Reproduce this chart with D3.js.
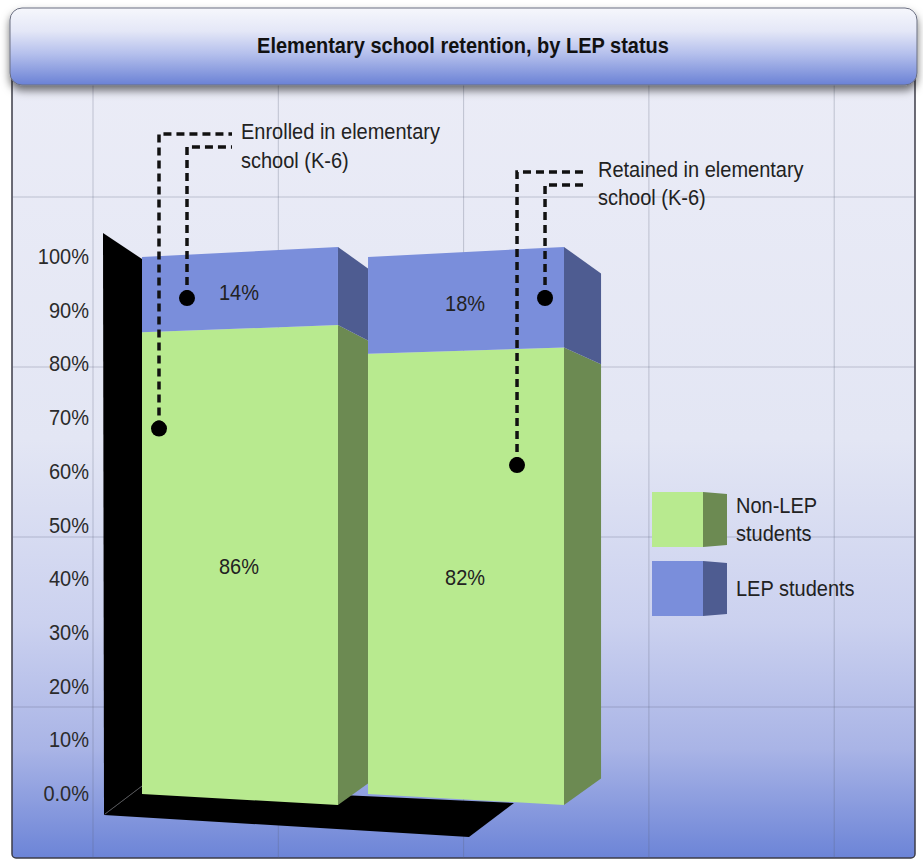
<!DOCTYPE html>
<html>
<head>
<meta charset="utf-8">
<script src="https://cdn.jsdelivr.net/npm/d3@7"></script>
<style>
  body { margin: 0; background: #fff; }
  svg { display: block; font-family: "Liberation Sans", Arial, sans-serif; }
</style>
</head>
<body>
<svg id="chart" width="923" height="861"></svg>
<script>
// chart values
const title = 'Elementary school retention, by LEP status';
const categories = ['Enrolled in elementary school (K-6)', 'Retained in elementary school (K-6)'];
const nonLepValues = [86, 82];
const lepValues = [14, 18];
const seriesKeys = ['nonLep', 'lep'];
const seriesNames = [['Non-LEP', 'students'], ['LEP students']];
const tickValues = [0, 10, 20, 30, 40, 50, 60, 70, 80, 90, 100];
const annotationText = [['Enrolled in elementary', 'school (K-6)'], ['Retained in elementary', 'school (K-6)']];

const colors = {
  nonLep: { front: '#b8ea8f', side: '#6c8a52' },
  lep: { front: '#7a8edb', side: '#4e5c91' }
};

const svg = d3.select('#chart');
const defs = svg.append('defs');

// background gradient for the panel
const bg = defs.append('linearGradient').attr('id', 'bg').attr('x1', 0).attr('x2', 0).attr('y1', 0).attr('y2', 1);
[[0, '#ecedf7'], [0.5, '#e3e6f4'], [0.72, '#cbd1ef'], [0.87, '#a9b4e6'], [1, '#6c84d7']]
  .forEach(([o, c]) => bg.append('stop').attr('offset', o).attr('stop-color', c));

const tg = defs.append('linearGradient').attr('id', 'titleBg').attr('x1', 0).attr('x2', 0).attr('y1', 0).attr('y2', 1);
[[0, '#f6f7fc'], [0.3, '#e4e7f7'], [0.6, '#b4bfec'], [1, '#6a81d5']]
  .forEach(([o, c]) => tg.append('stop').attr('offset', o).attr('stop-color', c));

defs.append('filter').attr('id', 'shadow').attr('x', '-5%').attr('y', '-20%').attr('width', '110%').attr('height', '160%')
  .append('feDropShadow').attr('dx', 0).attr('dy', 5).attr('stdDeviation', 4)
  .attr('flood-color', '#000').attr('flood-opacity', 0.55);

defs.append('clipPath').attr('id', 'panelClip')
  .append('rect').attr('x', 12).attr('y', 20).attr('width', 903).attr('height', 838).attr('rx', 4);

// panel + grid
svg.append('rect')
  .attr('x', 12).attr('y', 20).attr('width', 903).attr('height', 838).attr('rx', 4)
  .attr('fill', 'url(#bg)').attr('stroke', '#3c3d48').attr('stroke-width', 1.5);

const grid = svg.append('g').attr('clip-path', 'url(#panelClip)')
  .attr('stroke', '#5a5f78').attr('stroke-opacity', 0.3).attr('stroke-width', 1);
grid.selectAll('.v').data(d3.range(93, 915, 185.3)).join('line')
  .attr('x1', (d) => d).attr('x2', (d) => d).attr('y1', 20).attr('y2', 858);
grid.selectAll('.h').data(d3.range(27, 858, 170)).join('line')
  .attr('x1', 12).attr('x2', 915).attr('y1', (d) => d).attr('y2', (d) => d);

// title bar
svg.append('rect')
  .attr('x', 10).attr('y', 8).attr('width', 907).attr('height', 77).attr('rx', 12)
  .attr('fill', 'url(#titleBg)').attr('stroke', '#6a6e80').attr('stroke-width', 1)
  .attr('filter', 'url(#shadow)');

function addText(parent, x, y, str, anchor) {
  return parent.append('text')
    .attr('transform', `translate(${x},${y}) scale(1,1.1)`)
    .attr('dy', '0.35em')
    .attr('text-anchor', anchor || 'start')
    .attr('font-size', 20)
    .attr('fill', '#222')
    .text(str);
}

addText(svg, 463, 45, title, 'middle').attr('font-weight', 'bold').attr('fill', '#111');

// scales: the front face is drawn in perspective, so its left and right edges get their own y scale
const x = d3.scaleBand().domain(categories).range([142, 564]).paddingInner(0.133);
const yLeft = d3.scaleLinear().domain([0, 100]).range([794, 257]);
const yRight = d3.scaleLinear().domain([0, 100]).range([805, 247]);
const depth = [0.077, 0.095];
const vanish = { dx: 390, y: 525 };

function sidePoint(xr, yr, t) {
  return [xr + vanish.dx * t, yr + (vanish.y - yr) * t];
}
function yAt(frac, v) {
  return yLeft(v) + (yRight(v) - yLeft(v)) * frac;
}

const rows = categories.map((c, i) => ({ cat: c, idx: i, nonLep: nonLepValues[i], lep: lepValues[i] }));
const stacked = d3.stack().keys(seriesKeys)(rows);

// black wall and floor behind the bars
const x0 = x(categories[0]);
const bw = x.bandwidth();
const lastRight = x(categories[1]) + bw;
svg.append('path')
  .attr('d', `M${x0 - 39},${yLeft(100) - 24} L${x0},${yLeft(100) + 2} L${x0},${yLeft(0) - 8} L${x0 - 38},${yLeft(0) + 21} Z`)
  .attr('fill', '#000');
svg.append('path')
  .attr('d', `M${x0 - 38},${yLeft(0) + 21} L${lastRight - 95},${yLeft(0) + 43} L${lastRight - 50},${yLeft(0) + 9} L${x0},${yLeft(0) - 8} Z`)
  .attr('fill', '#000');
svg.append('line')
  .attr('x1', x0 - 37).attr('y1', yLeft(0) + 20).attr('x2', x0).attr('y2', yLeft(0) - 8)
  .attr('stroke', '#555').attr('stroke-width', 1);

// bars
const bars = svg.append('g');
stacked.forEach((series) => {
  series.forEach((d) => {
    const i = d.data.idx;
    const xl = x(d.data.cat);
    const xr = xl + bw;
    const [v0, v1] = d;
    const s1 = sidePoint(xr, yRight(v1), depth[i]);
    const s0 = sidePoint(xr, yRight(v0), depth[i]);
    bars.append('path')
      .attr('d', `M${xr},${yRight(v1)} L${s1[0]},${s1[1]} L${s0[0]},${s0[1]} L${xr},${yRight(v0)} Z`)
      .attr('fill', colors[series.key].side);
    bars.append('path')
      .attr('d', `M${xl},${yLeft(v1)} L${xr},${yRight(v1)} L${xr},${yRight(v0)} L${xl},${yLeft(v0)} Z`)
      .attr('fill', colors[series.key].front);
    const cy = (yLeft(v0) + yLeft(v1) + yRight(v0) + yRight(v1)) / 4 + 2;
    addText(bars, xl + bw / 2 - 1, cy, `${v1 - v0}%`, 'middle');
  });
});

// annotations with dashed leaders
const annotations = [
  { endX: 232, textX: 241, textY: [131, 160], dots: [{ dx: 17, v: 68, cornerY: 134 }, { dx: 45, v: 92, cornerY: 147 }] },
  { endX: 587, textX: 598, textY: [169, 197], dots: [{ dx: 149, v: 61, cornerY: 172 }, { dx: 177, v: 91, cornerY: 185 }] }
];
const notes = svg.append('g');
annotations.forEach((a, i) => {
  const xl = x(categories[i]);
  a.dots.forEach((p) => {
    const px = xl + p.dx;
    const py = yAt(p.dx / bw, p.v);
    notes.append('path')
      .attr('d', `M${px},${py} V${p.cornerY} H${a.endX}`)
      .attr('fill', 'none').attr('stroke', '#111').attr('stroke-width', 3.5)
      .attr('stroke-dasharray', '8,5');
    notes.append('circle').attr('cx', px).attr('cy', py).attr('r', 8).attr('fill', '#000');
  });
  annotationText[i].forEach((line, j) => addText(notes, a.textX, a.textY[j], line));
});

// legend
const legend = svg.append('g');
seriesKeys.forEach((key, i) => {
  const ly = 492 + i * 69;
  legend.append('path')
    .attr('d', `M703,${ly} L727,${ly + 2} L727,${ly + 53} L703,${ly + 55} Z`)
    .attr('fill', colors[key].side);
  legend.append('rect').attr('x', 652).attr('y', ly).attr('width', 51).attr('height', 55)
    .attr('fill', colors[key].front);
  const lines = seriesNames[i];
  lines.forEach((line, j) => {
    const ty = ly + 27 + (j - (lines.length - 1) / 2) * 28;
    addText(legend, 736, ty, line);
  });
});

// y axis labels
const axis = svg.append('g').attr('transform', 'translate(98,0)')
  .call(d3.axisLeft(yLeft).tickValues(tickValues).tickSize(0).tickPadding(9)
    .tickFormat((d) => (d === 0 ? '0.0%' : `${d}%`)));
axis.select('.domain').remove();
axis.selectAll('text')
  .attr('font-family', '"Liberation Sans", Arial, sans-serif')
  .attr('font-size', 20)
  .attr('fill', '#2b2b2b')
  .attr('transform', 'scale(1,1.1)')
  .attr('y', function () { return 0; });
axis.selectAll('.tick').attr('transform', (d) => `translate(0,${yLeft(d) / 1.0})`);
</script>
</body>
</html>
